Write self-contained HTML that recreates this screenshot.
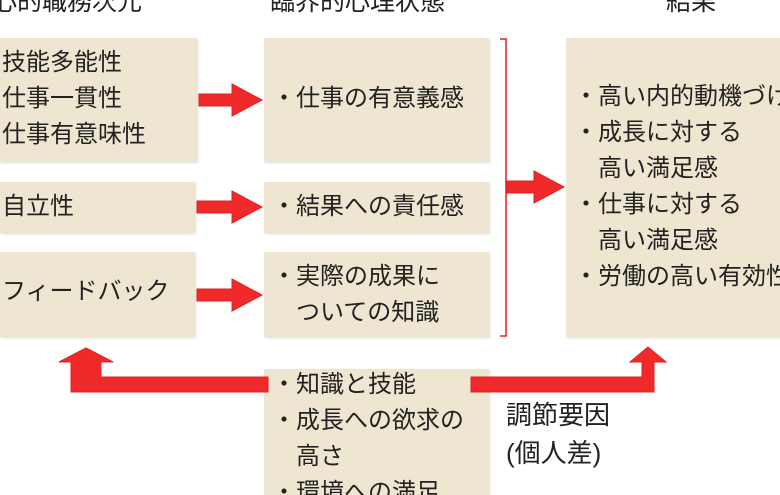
<!DOCTYPE html>
<html><head><meta charset="utf-8"><style>
html,body{margin:0;width:780px;height:495px;overflow:hidden}
body{background:#fff;position:relative;font-family:"Liberation Sans","Noto Sans CJK JP",sans-serif;color:#222}
.b{position:absolute;background:#efe6d1;box-shadow:1px 1px 2px #ddd}
.t{position:absolute;font-size:24px;line-height:36px;white-space:nowrap}
.h{position:absolute;font-size:25px;top:-18px;white-space:nowrap}
</style></head><body>
<div class="h" style="left:-8px">心的職務次元</div>
<div class="h" style="left:270px">臨界的心理状態</div>
<div class="h" style="left:666px">結果</div>

<div class="b" style="left:0;top:38px;width:197px;height:124px"></div>
<div class="b" style="left:0;top:182px;width:195px;height:51px"></div>
<div class="b" style="left:0;top:252px;width:195px;height:85px"></div>
<div class="b" style="left:264px;top:38px;width:225px;height:124px"></div>
<div class="b" style="left:264px;top:182px;width:225px;height:51px"></div>
<div class="b" style="left:264px;top:252px;width:225px;height:85px"></div>
<div class="b" style="left:566px;top:38px;width:220px;height:299px"></div>
<div class="b" style="left:264px;top:369px;width:225px;height:130px"></div>

<div class="t" style="left:2px;top:45px">技能多能性<br>仕事一貫性<br>仕事有意味性</div>
<div class="t" style="left:2px;top:189px">自立性</div>
<div class="t" style="left:2px;top:274px">フィードバック</div>
<div class="t" style="left:272px;top:81px">・仕事の有意義感</div>
<div class="t" style="left:272px;top:189px">・結果への責任感</div>
<div class="t" style="left:272px;top:259px">・実際の成果に<br>　ついての知識</div>
<div class="t" style="left:574px;top:79px">・高い内的動機づけ<br>・成長に対する<br>　高い満足感<br>・仕事に対する<br>　高い満足感<br>・労働の高い有効性</div>
<div class="t" style="left:272px;top:367px">・知識と技能<br>・成長への欲求の<br>　高さ<br>・環境への満足</div>
<div class="t" style="left:506px;top:396px;font-size:26px;line-height:38px">調節要因<br>(個人差)</div>

<svg width="780" height="495" style="position:absolute;left:0;top:0">
<g fill="#f02a2a" stroke="#e02020" stroke-width="1">
<polygon points="199,94 232,94 232,84 262,100 232,116 232,106 199,106"/>
<polygon points="197,201 232,201 232,191 262,207 232,223 232,213 197,213"/>
<polygon points="197,289 232,289 232,279 262,295 232,311 232,301 197,301"/>
<polygon points="507,181 534,181 534,171 564,187 534,203 534,193 507,193"/>
<polygon points="268,377 101,377 101,362 113,362 86,348 59,362 71,362 71,392 268,392"/>
<polygon points="471,377 642,377 642,362 630,362 648,347 666,362 654,362 654,392 471,392"/>
</g>
<path d="M500,39 H506 V336 H500" fill="none" stroke="#e02020" stroke-width="1.5"/>
</svg>
</body></html>
